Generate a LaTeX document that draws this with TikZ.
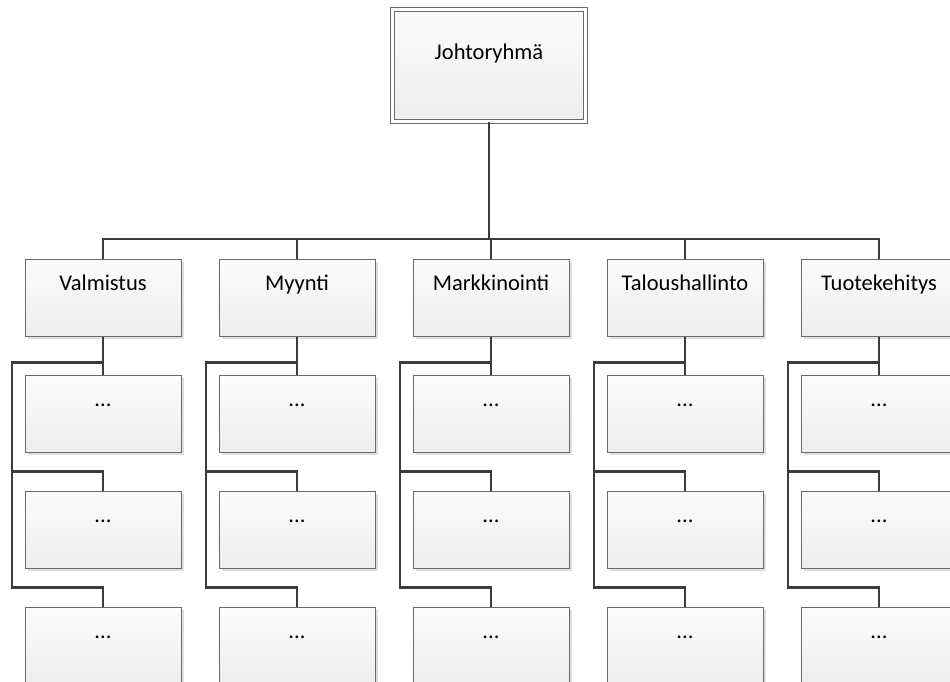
\documentclass[tikz,border=0pt]{standalone}
\usepackage{fontspec}
\setmainfont{Carlito}
\usepackage{tikz}
\usetikzlibrary{positioning,calc}
\definecolor{orgline}{HTML}{3C3C3C}
\definecolor{orgedge}{HTML}{6A6A6A}
\definecolor{orgtop}{HTML}{FCFCFC}
\definecolor{orgbot}{HTML}{EDEDED}
\definecolor{orgshade}{HTML}{DFDFDF}

\begin{document}
\begin{tikzpicture}[
  x=1pt, y=-1pt,
  font=\fontsize{22.5}{27}\selectfont,
  unit/.style={draw=orgedge, line width=1pt, top color=orgtop, bottom color=orgbot,
    minimum width=156pt, minimum height=77pt, inner sep=0pt,
    preaction={fill=orgshade, transform canvas={xshift=3pt, yshift=-3pt}}},
  headbox/.style={draw=orgedge, line width=1pt, double=white, double distance=3pt,
    top color=orgtop, bottom color=orgbot,
    minimum width=193pt, minimum height=112pt, inner sep=0pt},
  conn/.style={draw=orgline, line width=2.6pt},
]
  \useasboundingbox (0,0) rectangle (950,681);
  % top level
  \node[headbox, label={[anchor=base, yshift=-50pt]north:Johtoryhmä}] (board) at (489,65.5) {};
  \coordinate (hub) at (489,239);
  % departments
  \node[unit, label={[anchor=base, yshift=-32pt]north:Valmistus}]      (dept1) at (103,297.5) {};
  \node[unit, label={[anchor=base, yshift=-32pt]north:Myynti}]         (dept2) at (297,297.5) {};
  \node[unit, label={[anchor=base, yshift=-32pt]north:Markkinointi}]   (dept3) at (491,297.5) {};
  \node[unit, label={[anchor=base, yshift=-32pt]north:Taloushallinto}] (dept4) at (685,297.5) {};
  \node[unit, label={[anchor=base, yshift=-32pt]north:Tuotekehitys}]   (dept5) at (879,297.5) {};
  \draw[conn] (board.south) -- (hub);
  \draw[conn] (dept1.north) |- (hub) -| (dept5.north);
  \foreach \i in {2,3,4}
    \draw[conn] (dept\i.north) -- (dept\i.north |- hub);
  % sub units
  \foreach \i/\cx in {1/103,2/297,3/491,4/685,5/879} {
    \node[unit, label={[anchor=base, yshift=-31.5pt]north:...}] (dept\i-1) at (\cx,413.5) {};
    \node[unit, label={[anchor=base, yshift=-31.5pt]north:...}] (dept\i-2) at (\cx,529.5) {};
    \node[unit, label={[anchor=base, yshift=-31.5pt]north:...}] (dept\i-3) at (\cx,645.5) {};
    \draw[conn] (dept\i.south) -- (dept\i-1.north);
    \draw[conn] (dept\i.south) ++(0,26) -- ++(-91,0) -- ++(0,225) -| (dept\i-3.north);
    \draw[conn] (dept\i-2.north) |- ++(-91,-19);
  }
\end{tikzpicture}
\end{document}
